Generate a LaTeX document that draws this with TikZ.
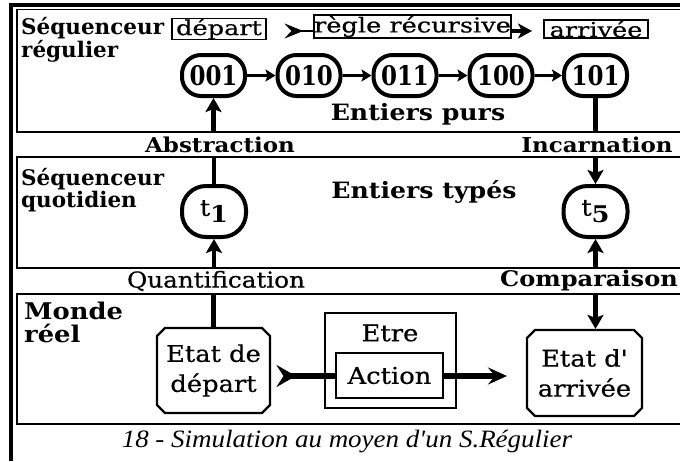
\documentclass[tikz,border=0pt]{standalone}
\usepackage{fontspec}
\usetikzlibrary{arrows.meta,shapes.misc}
\newfontfamily\serifA{DejaVu Serif}
\newfontfamily\serifW[FakeStretch=1.12]{DejaVu Serif}
\newfontfamily\serifR[FakeStretch=1.12,FakeBold=0.6]{DejaVu Serif}
\newfontfamily\serifT[FakeStretch=1.25,FakeBold=0.5]{DejaVu Serif}
\newfontfamily\digf[FakeStretch=0.85]{DejaVu Serif}
\newfontfamily\capfont[FakeStretch=1.08]{Liberation Serif}
\tikzset{
  frameline/.style={line width=3.5pt},
  panel/.style={line width=1.8pt},
  sectlabel/.style={inner sep=0pt, align=left, anchor=north west, font=\serifA\bfseries\fontsize{21.5}{18.5}\selectfont},
  topbox/.style={draw, line width=1.5pt, inner sep=0pt, font=\serifT\fontsize{20.5}{20.5}\selectfont},
  oval/.style={draw, line width=4pt, rounded corners=19pt, inner sep=0pt, minimum width=63pt, minimum height=41pt, font=\digf\bfseries\fontsize{27}{27}\selectfont},
  toval/.style={draw, line width=4pt, rounded corners=24pt, inner sep=0pt, minimum width=64pt, minimum height=51pt},
  gaplabel/.style={inner sep=0pt, minimum height=25pt, font=\serifW\bfseries\fontsize{20.5}{20.5}\selectfont},
  statebox/.style={draw, chamfered rectangle, chamfered rectangle xsep=4pt, chamfered rectangle ysep=4pt, line width=2.2pt, inner sep=0pt, align=center, font=\serifR\fontsize{23}{30}\selectfont},
  plainbox/.style={draw, line width=1.6pt, inner sep=0pt, font=\serifR\fontsize{23}{23}\selectfont},
  vline/.style={line width=4.5pt},
  varrow/.style={line width=4.5pt, -{Stealth[length=14pt,width=16pt,inset=3pt]}},
  harrow/.style={line width=3.5pt, -{Stealth[length=10pt,width=12pt,inset=2pt]}},
  fletch/.style={fill=black, draw=black, line width=0.8pt, line join=miter},
}
\begin{document}
\begin{tikzpicture}[x=1pt,y=-1pt]
\useasboundingbox (0,0) rectangle (680,461);
% outer frame
\draw[frameline] (11,461) -- (11,5) -- (680,5);
% panels
\draw[panel] (680,9.5) -- (17,9.5) -- (17,132) -- (680,132);
\draw[panel] (680,157) -- (17,157) -- (17,268) -- (680,268);
\draw[panel] (680,294) -- (17,294) -- (17,424) -- (680,424);

% top panel
\node[sectlabel] (seqreg) at (21,17) {Séquenceur\\régulier};
\node[topbox, minimum width=94pt, minimum height=18pt] (bdep) at (219,29) {départ};
\node[topbox, minimum width=189pt, minimum height=23pt] (bregle) at (412.5,26.5) {règle récursive};
\node[topbox, minimum width=104pt, minimum height=18pt] (barr) at (596,29) {arrivée};
\coordinate (tail1) at (296,31);
\coordinate (head1) at (532,31);
\draw[line width=2.5pt] (tail1) -- (tail1 -| bregle.west);
\filldraw[fletch] (286,24.5) -- (302,31) -- (286,37.5) -- (292,31) -- cycle;
\draw[line width=3.5pt, -{Stealth[length=14pt,width=15pt,inset=4pt]}] (bregle.east |- head1) -- (head1);

\node[oval] (n1) at (213.5,75.5) {001};
\node[oval] (n2) at (309,75.5) {010};
\node[oval] (n3) at (405,75.5) {011};
\node[oval] (n4) at (501,75.5) {100};
\node[oval] (n5) at (595.5,75.5) {101};
\draw[harrow] (n1) -- (n2);
\draw[harrow] (n2) -- (n3);
\draw[harrow] (n3) -- (n4);
\draw[harrow] (n4) -- (n5);
\node[inner sep=0pt, font=\serifW\bfseries\fontsize{22.5}{22.5}\selectfont] (purs) at (418,114) {Entiers purs};

% gap labels
\node[gaplabel] (abs) at (220,144.5) {Abstraction};
\node[gaplabel] (inc) at (597,144.5) {Incarnation};
\node[gaplabel, font=\serifR\fontsize{22}{22}\selectfont] (quant) at (216,281) {Quantification};
\node[gaplabel, font=\serifW\bfseries\fontsize{21.5}{21.5}\selectfont] (comp) at (589,281) {Comparaison};

% middle panel
\node[sectlabel] (seqquo) at (21,168) {Séquenceur\\quotidien};
\node[toval] (t1) at (214,211.5) {\serifR\fontsize{23}{23}\selectfont t\raisebox{-7pt}{\serifW\bfseries 1}};
\node[toval] (t5) at (595.5,211.5) {\serifR\fontsize{23}{23}\selectfont t\raisebox{-7pt}{\serifW\bfseries 5}};
\node[inner sep=0pt, font=\serifW\bfseries\fontsize{22.5}{22.5}\selectfont] (types) at (424,192) {Entiers typés};

% bottom panel
\node[sectlabel, font=\serifW\bfseries\fontsize{23}{23}\selectfont] (monde) at (24,302) {Monde\\réel};
\node[statebox, minimum width=113pt, minimum height=85pt] (edep) at (213.5,370.5) {Etat de\\départ};
\node[plainbox, minimum width=131pt, minimum height=95pt] (etre) at (390.5,360.5) {};
\node[inner sep=0pt, font=\serifR\fontsize{23}{23}\selectfont] (etrelbl) at (390,333) {Etre};
\node[plainbox, minimum width=107pt, minimum height=45pt] (action) at (389.5,375.5) {Action};
\node[statebox, minimum width=115pt, minimum height=86pt] (earr) at (584.5,373) {Etat d'\\arrivée};

% vertical connectors
\draw[varrow] (abs.north -| n1) -- (n1.south);
\draw[vline] (t1.north) -- (t1.north |- abs.south);
\draw[vline] (n5.south) -- (n5.south |- inc.north);
\draw[varrow] (inc.south -| n5) -- (t5.north);
\draw[varrow] (quant.north -| t1) -- (t1.south);
\draw[vline] (edep.north) -- (edep.north |- quant.south);
\draw[varrow] (comp.north -| t5) -- (t5.south);
\draw[varrow] (comp.south -| t5) -- (t5 |- earr.north);

% bottom action arrow
\coordinate (tail2) at (288,376);
\coordinate (head2) at (507,376);
\draw[line width=5.5pt] (tail2) -- (tail2 -| action.west);
\filldraw[fletch] (277.5,366) -- (295,376) -- (277.5,386) -- (284,376) -- cycle;
\draw[line width=5.5pt, -{Stealth[length=19pt,width=17pt,inset=7pt]}] (action.east |- head2) -- (head2);

% caption
\node[anchor=base, inner sep=0pt, font=\capfont\itshape\fontsize{25}{25}\selectfont] (cap) at (347,447) {18 - Simulation au moyen d'un S.Régulier};
\end{tikzpicture}
\end{document}
